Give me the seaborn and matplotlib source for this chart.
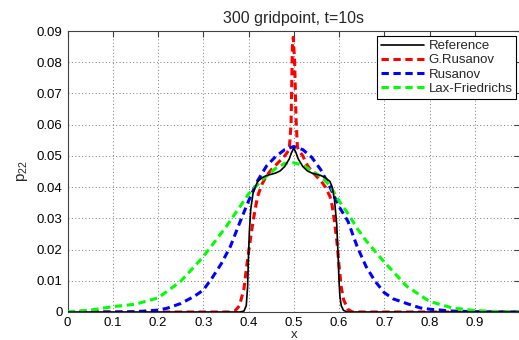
import numpy as np
import pandas as pd
import matplotlib
matplotlib.use("Agg")
import matplotlib.pyplot as plt
import seaborn as sns

# ---- data ----
ref_x = [0, 0.1, 0.2, 0.3, 0.38, 0.39, 0.395, 0.398, 0.40, 0.402, 0.405, 0.41, 0.415, 0.42,
         0.43, 0.44, 0.45, 0.46, 0.47, 0.48, 0.49, 0.495, 0.50, 0.505, 0.51, 0.52, 0.53, 0.54,
         0.55, 0.56, 0.57, 0.58, 0.585, 0.59, 0.595, 0.598, 0.60, 0.602, 0.605, 0.61, 0.62,
         0.7, 0.8, 0.9, 1.0]
ref_y = [0, 0, 0, 0, 0, 0.0003, 0.002, 0.008, 0.018, 0.026, 0.033, 0.038, 0.040, 0.0418,
         0.0430, 0.0437, 0.0441, 0.0445, 0.0452, 0.0466, 0.0490, 0.0510, 0.0525, 0.0510, 0.0490,
         0.0466, 0.0452, 0.0445, 0.0441, 0.0437, 0.0430, 0.0418, 0.0400, 0.036, 0.028, 0.018,
         0.010, 0.005, 0.002, 0.0005, 0, 0, 0, 0, 0]

grus_x = [0, 0.1, 0.2, 0.3, 0.36, 0.37, 0.38, 0.39, 0.395, 0.40, 0.405, 0.41, 0.415, 0.42,
          0.43, 0.44, 0.45, 0.46, 0.47, 0.48, 0.49, 0.494, 0.497, 0.499, 0.502, 0.505, 0.508,
          0.51, 0.52, 0.53, 0.54, 0.55, 0.56, 0.57, 0.58, 0.585, 0.59, 0.595, 0.60, 0.605,
          0.61, 0.62, 0.63, 0.7, 0.8, 0.9, 1.0]
grus_y = [0, 0, 0, 0, 0, 0.0003, 0.002, 0.0075, 0.0135, 0.019, 0.024, 0.029, 0.033, 0.037,
          0.041, 0.0437, 0.0455, 0.047, 0.0485, 0.050, 0.052, 0.060, 0.085, 0.0880, 0.080,
          0.062, 0.053, 0.052, 0.050, 0.047, 0.045, 0.0435, 0.042, 0.040, 0.037, 0.034, 0.029,
          0.023, 0.015, 0.008, 0.004, 0.0008, 0, 0, 0, 0, 0]

rus_x = [0, 0.1, 0.15, 0.2, 0.22, 0.25, 0.28, 0.3, 0.32, 0.34, 0.36, 0.38, 0.40, 0.42, 0.44,
         0.46, 0.48, 0.50, 0.52, 0.54, 0.56, 0.58, 0.60, 0.62, 0.64, 0.66, 0.68, 0.70, 0.72,
         0.75, 0.78, 0.80, 0.85, 0.9, 1.0]
rus_y = [0, 0, 0.0001, 0.0006, 0.0012, 0.0027, 0.005, 0.007, 0.011, 0.0155, 0.021, 0.0284,
         0.0355, 0.0420, 0.0468, 0.0498, 0.0520, 0.0530, 0.0520, 0.0495, 0.0455, 0.0400,
         0.0338, 0.0290, 0.0210, 0.0145, 0.0098, 0.0062, 0.0042, 0.0027, 0.0013, 0.0009,
         0.0003, 0.0001, 0]

lf_x = [0, 0.05, 0.1, 0.15, 0.2, 0.25, 0.3, 0.35, 0.38, 0.40, 0.43, 0.46, 0.48, 0.50, 0.52,
        0.54, 0.56, 0.58, 0.60, 0.62, 0.64, 0.66, 0.70, 0.75, 0.80, 0.85, 0.9, 0.95, 1.0]
lf_y = [0.0001, 0.0006, 0.0017, 0.0025, 0.0045, 0.0098, 0.0177, 0.0272, 0.0335, 0.0378,
        0.0423, 0.0460, 0.0476, 0.0478, 0.0470, 0.0452, 0.0434, 0.0405, 0.0356, 0.0315,
        0.0268, 0.0228, 0.0160, 0.0082, 0.0034, 0.0013, 0.0005, 0.0001, 0]

labels = ["Reference", "G.Rusanov", "Rusanov", "Lax-Friedrichs"]
xticks = [0, 0.1, 0.2, 0.3, 0.4, 0.5, 0.6, 0.7, 0.8, 0.9]
xticklabels = ["0", "0.1", "0.2", "0.3", "0.4", "0.5", "0.6", "0.7", "0.8", "0.9"]
yticks = [0, 0.01, 0.02, 0.03, 0.04, 0.05, 0.06, 0.07, 0.08, 0.09]
yticklabels = ["0", "0.01", "0.02", "0.03", "0.04", "0.05", "0.06", "0.07", "0.08", "0.09"]

# ---- style ----
sns.set_style("white")
plt.rcParams["font.family"] = ["Liberation Sans", "DejaVu Sans"]
plt.rcParams["mathtext.fontset"] = "custom"
plt.rcParams["mathtext.rm"] = "Liberation Sans"
plt.rcParams["mathtext.it"] = "Liberation Sans"
FS = 9.5

fig = plt.figure(figsize=(5.19, 3.40), dpi=100)
W, H = 519, 340
ax = fig.add_axes([67.5 / W, 28 / H, 452.5 / W, 281 / H])

series = [
    (grus_x, grus_y, labels[1], "#ff0000", (0, (2.4, 1.5)), 2.2, 3),
    (rus_x, rus_y, labels[2], "#0000ff", (0, (2.4, 1.5)), 2.2, 3),
    (lf_x, lf_y, labels[3], "#00ff00", (0, (2.4, 1.5)), 2.2, 4),
    (ref_x, ref_y, labels[0], "#000000", "-", 1.2, 5),
]
for xs, ys, lab, col, ls, lw, z in series:
    df = pd.DataFrame({"x": xs, "y": ys})
    sns.lineplot(data=df, x="x", y="y", ax=ax, color=col, linestyle=ls, linewidth=lw,
                 label=lab, zorder=z, sort=False, estimator=None)

ax.set_xlim(0, 1)
ax.set_ylim(0, 0.09)
ax.set_xticks(xticks)
ax.set_xticklabels(xticklabels, fontsize=FS)
ax.set_yticks(yticks)
ax.set_yticklabels(yticklabels, fontsize=FS)
ax.tick_params(direction="in", length=4, width=0.8, color="#404040", top=True, right=True,
               pad=3.5, labelcolor="#000000")
ax.grid(True, linestyle=(0, (1, 2.5)), color="#777777", linewidth=0.7)
for s in ax.spines.values():
    s.set_color("#404040")
    s.set_linewidth(0.8)

ax.set_title("300 gridpoint, t=10s", fontsize=11.5, pad=6)
ax.set_xlabel("x", fontsize=FS, labelpad=0)
ax.set_ylabel("p$_{22}$", fontsize=11, labelpad=5)

h, l = ax.get_legend_handles_labels()
order = [l.index(name) for name in labels]
leg = ax.legend([h[i] for i in order], [l[i] for i in order], loc="upper right",
                bbox_to_anchor=(0.992, 0.982), fontsize=FS, frameon=True, fancybox=False,
                edgecolor="#000000", framealpha=1, borderpad=0.3, labelspacing=0.15,
                handlelength=3.3, handletextpad=0.3, borderaxespad=0)
leg.get_frame().set_linewidth(0.8)

fig.savefig("out.png", dpi=100)
